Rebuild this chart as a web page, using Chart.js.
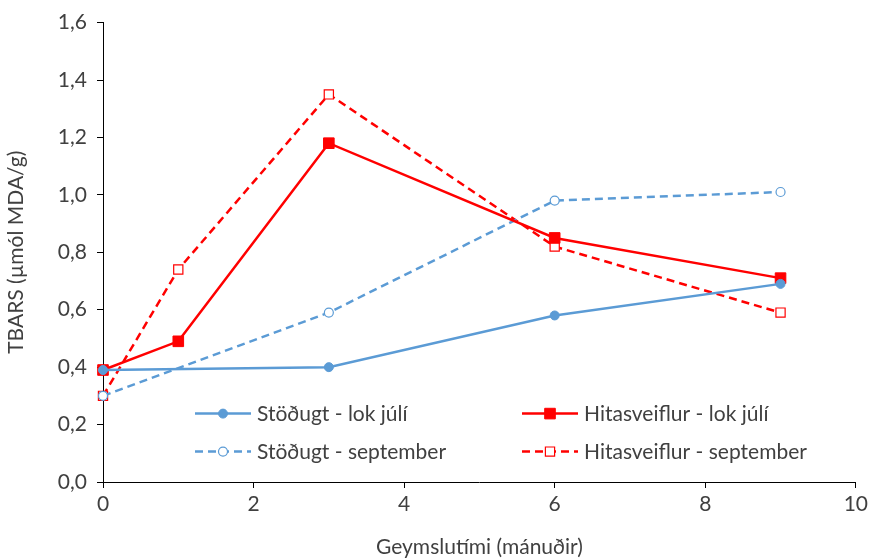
<!DOCTYPE html>
<html>
<head>
<meta charset="utf-8">
<script src="https://cdn.jsdelivr.net/npm/chart.js@4.4.1/dist/chart.umd.min.js"></script>
<style>
  html, body { margin: 0; padding: 0; background: #fff; }
  #wrap { width: 872px; height: 560px; }
</style>
</head>
<body>
<div id="wrap"><canvas id="tbarsChart" width="872" height="560"></canvas></div>
<script>
// storage time (months)
var monthsStodugt = [0, 3, 6, 9];
var monthsHita = [0, 1, 3, 6, 9];

// TBARS values (umol MDA/g)
var stodugtJuli = [0.39, 0.40, 0.58, 0.69];
var hitaJuli = [0.39, 0.49, 1.18, 0.85, 0.71];
var stodugtSept = [0.30, 0.59, 0.98, 1.01];
var hitaSept = [0.30, 0.74, 1.35, 0.82, 0.59];

var seriesNames = ["Stöðugt - lok júlí", "Hitasveiflur - lok júlí", "Stöðugt - september", "Hitasveiflur - september"];
var xTicks = [0, 2, 4, 6, 8, 10];
var yTicks = [0, 0.2, 0.4, 0.6, 0.8, 1.0, 1.2, 1.4, 1.6];

var BLUE = "#5B9BD5", RED = "#FF0000", TXT = "#404040";
var FONT = "Lato";
var FSIZE = 21;

function pts(xs, ys) {
    return xs.map(function(x, i){ return {x: x, y: ys[i]}; });
}

// legend drawn inside the plot, two columns
var insideLegend = {
    id: "insideLegend",
    afterDatasetsDraw: function(chart) {
        var ctx = chart.ctx, area = chart.chartArea;
        var spots = [
            {x: area.left + 92, y: area.top + 391},
            {x: area.left + 419, y: area.top + 391},
            {x: area.left + 92, y: area.top + 429},
            {x: area.left + 419, y: area.top + 429}
        ];
        chart.data.datasets.forEach(function(ds, i){
            var p = spots[i];
            ctx.save();
            ctx.strokeStyle = ds.borderColor;
            ctx.lineWidth = ds.borderWidth;
            ctx.setLineDash(ds.borderDash || []);
            ctx.beginPath();
            ctx.moveTo(p.x, p.y);
            ctx.lineTo(p.x + 56, p.y);
            ctx.stroke();
            ctx.setLineDash([]);
            ctx.fillStyle = ds.pointBackgroundColor;
            ctx.strokeStyle = ds.pointBorderColor;
            ctx.lineWidth = ds.pointBorderWidth;
            Chart.helpers.drawPoint(ctx, {pointStyle: ds.pointStyle, radius: ds.pointRadius, rotation: 0, borderWidth: ds.pointBorderWidth}, p.x + 28, p.y);
            ctx.fillStyle = TXT;
            ctx.font = FSIZE + "px " + FONT;
            ctx.textBaseline = "middle";
            ctx.fillText(ds.label, p.x + 62, p.y + 1);
            ctx.restore();
        });
    }
};

var ctx = document.getElementById("tbarsChart").getContext("2d");
var tbarsChart = new Chart(ctx, {
    type: "scatter",
    data: {
        datasets: [{
            label: seriesNames[0],
            data: pts(monthsStodugt, stodugtJuli),
            showLine: true,
            borderColor: BLUE, borderWidth: 2.5,
            pointStyle: "circle", pointRadius: 4.5,
            pointBackgroundColor: BLUE, pointBorderColor: BLUE, pointBorderWidth: 1
        }, {
            label: seriesNames[1],
            data: pts(monthsHita, hitaJuli),
            showLine: true,
            borderColor: RED, borderWidth: 2.5,
            pointStyle: "rect", pointRadius: 7.5,
            pointBackgroundColor: RED, pointBorderColor: RED, pointBorderWidth: 1
        }, {
            label: seriesNames[2],
            data: pts(monthsStodugt, stodugtSept),
            showLine: true,
            borderColor: BLUE, borderWidth: 2.5, borderDash: [8, 5],
            pointStyle: "circle", pointRadius: 4.5,
            pointBackgroundColor: "#fff", pointBorderColor: BLUE, pointBorderWidth: 1.2
        }, {
            label: seriesNames[3],
            data: pts(monthsHita, hitaSept),
            showLine: true,
            borderColor: RED, borderWidth: 2.5, borderDash: [8, 5],
            pointStyle: "rect", pointRadius: 6.5,
            pointBackgroundColor: "#fff", pointBorderColor: RED, pointBorderWidth: 1.2
        }]
    },
    options: {
        responsive: false,
        animation: false,
        devicePixelRatio: 1,
        clip: false,
        layout: { padding: { top: 19, right: 15, left: 0, bottom: 0 } },
        plugins: {
            legend: { display: false },
            tooltip: { enabled: false }
        },
        scales: {
            x: {
                type: "linear", min: 0, max: 10,
                afterFit: function(s){ s.height = 78; },
                afterBuildTicks: function(s){ s.ticks = xTicks.map(function(v){ return {value: v}; }); },
                ticks: { color: TXT, font: {family: FONT, size: FSIZE}, padding: 4, maxRotation: 0 },
                grid: { drawOnChartArea: false, drawTicks: true, tickLength: 6, color: "#000" },
                border: { color: "#000", width: 1 },
                title: { display: true, text: "Geymslutími (mánuðir)", color: TXT, font: {family: FONT, size: FSIZE}, padding: {top: 0, bottom: 0} }
            },
            y: {
                min: 0, max: 1.6,
                afterFit: function(s){ s.width = 103; },
                afterBuildTicks: function(s){ s.ticks = yTicks.map(function(v){ return {value: v}; }); },
                ticks: {
                    color: TXT, font: {family: FONT, size: FSIZE}, padding: 10,
                    callback: function(v){ return v.toFixed(1).replace(".", ","); }
                },
                grid: { drawOnChartArea: false, drawTicks: true, tickLength: 6, color: "#000" },
                border: { color: "#000", width: 1 },
                title: { display: true, text: "TBARS (µmól MDA/g)", color: TXT, font: {family: FONT, size: FSIZE}, padding: {top: 4, bottom: 4} }
            }
        }
    },
    plugins: [insideLegend]
});
</script>
</body>
</html>
